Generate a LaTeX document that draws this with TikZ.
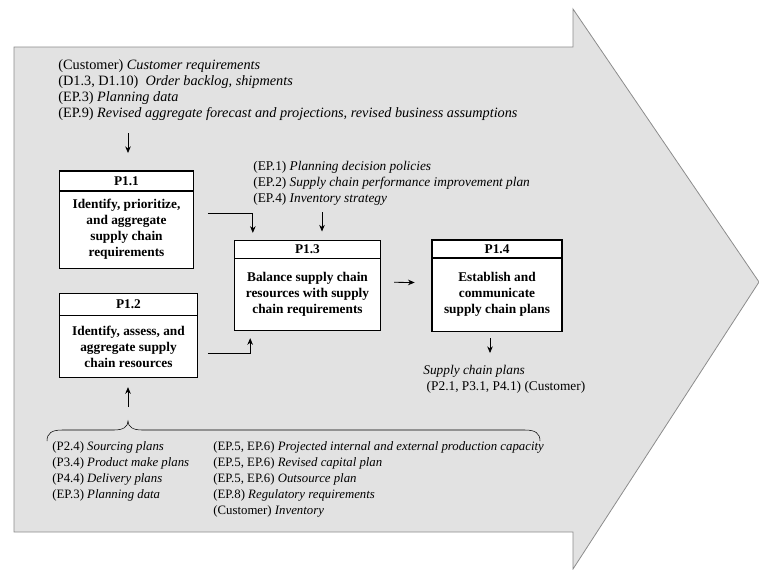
\documentclass[tikz,border=0pt]{standalone}
\usepackage{fontspec}
\setmainfont{Liberation Serif}
\usetikzlibrary{arrows.meta,positioning}
\definecolor{arrowgray}{RGB}{226,226,226}
\definecolor{edgegray}{RGB}{140,140,140}

\begin{document}
\begin{tikzpicture}[x=0.75pt,y=-0.75pt,->,>={Stealth[length=5pt,width=4.2pt]},semithick]
\tikzstyle{titlebox}=[draw=black,fill=white,thick,inner sep=0pt,outer sep=0pt,font=\bfseries]
\tikzstyle{bodybox}=[draw=black,fill=white,thick,inner sep=0pt,outer sep=0pt,align=center,font=\bfseries]
\tikzstyle{flowtext}=[inner sep=0pt,anchor=north west,align=left]
\tikzset{font=\fontsize{10pt}{12pt}\selectfont}

        \useasboundingbox (0,0) rectangle (759,569);

        % big process arrow
        \draw[-,draw=edgegray,fill=arrowgray] (14,47) -- (573,47) -- (573,9) -- (759,282)
              -- (573,569) -- (573,532) -- (14,532) -- cycle;

        \node[titlebox,minimum width=100pt,minimum height=15pt]   (t11) at (126.5,181) {P1.1};
        \node[bodybox,minimum width=100pt,minimum height=58pt]    (p11) [below=0pt of t11]
              {Identify, prioritize,\\and aggregate\\supply chain\\requirements};

        \node[titlebox,minimum width=103pt,minimum height=16pt]   (t12) at (128.5,304.5) {P1.2};
        \node[bodybox,minimum width=103pt,minimum height=47pt]    (p12) [below=0pt of t12]
              {Identify, assess, and\\aggregate supply\\chain resources};

        \node[titlebox,minimum width=110pt,minimum height=13pt]   (t13) at (307.5,249.5) {P1.3};
        \node[bodybox,minimum width=110pt,minimum height=54pt]    (p13) [below=0pt of t13]
              {Balance supply chain\\resources with supply\\chain requirements};

        \node[titlebox,minimum width=97.5pt,minimum height=13.5pt] (t14) at (497,249) {P1.4};
        \node[bodybox,minimum width=97.5pt,minimum height=55pt]    (p14) [below=0pt of t14]
              {Establish and\\communicate\\supply chain plans};

        \node[flowtext,font=\fontsize{10.7pt}{12pt}\selectfont] (reqin) at (58,59.5)
              {(Customer) \textit{Customer requirements}\\
               (D1.3, D1.10)\ \ \textit{Order backlog, shipments}\\
               (EP.3) \textit{Planning data}\\
               (EP.9) \textit{Revised aggregate forecast and projections, revised business assumptions}};
        \node[flowtext] (polin) at (253,161)
              {(EP.1) \textit{Planning decision policies}\\
               (EP.2) \textit{Supply chain performance improvement plan}\\
               (EP.4) \textit{Inventory strategy}};
        \node[flowtext] (planout) at (423,365)
              {\textit{Supply chain plans}\\
               \ (P2.1, P3.1, P4.1) (Customer)};
        \node[flowtext,font=\fontsize{9.6pt}{12pt}\selectfont] (resleft) at (52,441)
              {(P2.4) \textit{Sourcing plans}\\
               (P3.4) \textit{Product make plans}\\
               (P4.4) \textit{Delivery plans}\\
               (EP.3) \textit{Planning data}};
        \node[flowtext,font=\fontsize{9.6pt}{12pt}\selectfont] (resright) at (213,441)
              {(EP.5, EP.6) \textit{Projected internal and external production capacity}\\
               (EP.5, EP.6) \textit{Revised capital plan}\\
               (EP.5, EP.6) \textit{Outsource plan}\\
               (EP.8) \textit{Regulatory requirements}\\
               (Customer) \textit{Inventory}};

        % brace under the resources
        \draw[-,thin] (47,441) .. controls (47,433) and (52,430) .. (62,430) -- (114,430)
              .. controls (123,430) and (128,427) .. (128,421)
              .. controls (128,427) and (133,430) .. (142,430) -- (525,430)
              .. controls (535,430) and (540,433) .. (540,441);

        \coordinate (in11)  at (128,133);
        \coordinate (in12)  at (128,407);
        \coordinate (in13)  at (322,212);
        \coordinate (out14) at (490,353);

        \path[->]
        (in11) edge[shorten >=13.5pt] (in11 |- t11.north)
        (in12) edge[shorten >=7pt]    (in12 |- p12.south)
        (in13) edge[shorten >=7pt]    (in13 |- t13.north)
        ([yshift=9pt]p13.east) edge[shorten <=10pt,shorten >=13pt] ([yshift=9pt]p14.west)
        (out14 |- p14.south) edge[shorten <=5pt] (out14)
        ; %end path

        \draw[shorten <=11pt,shorten >=6pt] ([yshift=12pt]p11.east) -| ([xshift=-41pt]t13.north);
        \draw[shorten <=8pt,shorten >=6pt] ([yshift=-5.5pt]p12.east) -| ([xshift=-43pt]p13.south);

\end{tikzpicture}
\end{document}
